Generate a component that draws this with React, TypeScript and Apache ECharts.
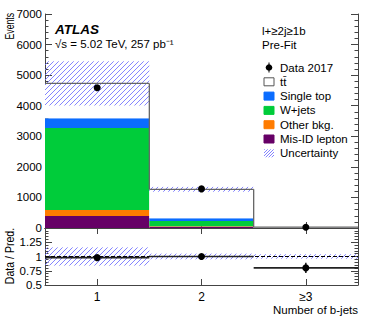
import React, { useEffect, useRef } from 'react';
import * as echarts from 'echarts';

const categories = ['1', '2', '≥3'];
const misIdLepton = [390, 40, 3];
const otherBkg = [200, 20, 2];
const wJets = [2680, 170, 6];
const singleTop = [320, 85, 4];
const ttbar = [1140, 950, 15];
const dataEvents = [4590, 1280, 24];
const dataErrors = [68, 36, 5];
const relUncertainty = [0.153, 0.063, 0.04];
const ratioValues = [0.98, 1.0, 0.8];
const ratioErrors = [0.015, 0.03, 0.09];
const ratioUncertainty = [0.16, 0.05, 0.04];
const topTicks = { min: 0, max: 7000, interval: 1000 };
const ratioTicks = { min: 0.5, max: 1.5, interval: 0.25 };

const legendItems = [
  { name: 'Data 2017', kind: 'data', color: '#000' },
  { name: 'tt\u0304', kind: 'box', color: '#ffffff' },
  { name: 'Single top', kind: 'box', color: '#0a6cff' },
  { name: 'W+jets', kind: 'box', color: '#00cc3a' },
  { name: 'Other bkg.', kind: 'box', color: '#ff7c00' },
  { name: 'Mis-ID lepton', kind: 'box', color: '#660066' },
  { name: 'Uncertainty', kind: 'hatch', color: '' },
];

const FONT = '"Liberation Sans", Arial, Helvetica, sans-serif';
const HATCH = 'rgba(110,110,255,0.85)';
const AXIS = '#444';

function hatchLines(x0: number, x1: number, yT: number, yB: number, step: number, stroke: string) {
  const els: any[] = [];
  const start = Math.ceil((x0 + yT) / step) * step;
  for (let c = start; c <= x1 + yB; c += step) {
    const xa = Math.max(x0, c - yB);
    const xb = Math.min(x1, c - yT);
    if (xb > xa) {
      els.push({
        type: 'line',
        shape: { x1: xa, y1: c - xa, x2: xb, y2: c - xb },
        style: { stroke, lineWidth: 1 },
      });
    }
  }
  return els;
}

export default function App() {
  const ref = useRef<HTMLDivElement>(null);
  useEffect(() => {
    if (!ref.current) return;
    const chart = echarts.init(ref.current, null, { renderer: 'svg' });
    const totals = categories.map(
      (_, i) => misIdLepton[i] + otherBkg[i] + wJets[i] + singleTop[i] + ttbar[i]
    );

    const hatchRender = (params: any, api: any) => {
      const i = api.value(0);
      const lo = api.coord([i, api.value(1)]);
      const hi = api.coord([i, api.value(2)]);
      const w = api.size([1, 0])[0];
      const x0 = lo[0] - w / 2;
      const x1 = lo[0] + w / 2;
      return {
        type: 'group',
        children: hatchLines(x0, x1, hi[1], lo[1], 5, HATCH),
      };
    };

    const stackColors = ['#660066', '#ff7c00', '#00cc3a', '#0a6cff', '#ffffff'];
    const stackData = [misIdLepton, otherBkg, wJets, singleTop, ttbar];
    const stackNames = ['Mis-ID lepton', 'Other bkg.', 'W+jets', 'Single top', 'ttbar'];

    const axisLineStyle = { lineStyle: { color: AXIS, width: 1 } };
    const catAxis = (gridIndex: number, position: string, showLabel: boolean) => ({
      type: 'category',
      gridIndex,
      position,
      data: categories,
      boundaryGap: true,
      axisLine: { show: true, ...axisLineStyle },
      axisTick: { show: true, inside: true, alignWithLabel: true, length: 6, lineStyle: { color: AXIS } },
      axisLabel: {
        show: showLabel,
        color: '#000',
        fontFamily: FONT,
        fontSize: 12,
        margin: 6,
      },
      splitLine: { show: false },
    });
    const valAxis = (gridIndex: number, position: string, ticks: any, showLabel: boolean, formatter?: any) => ({
      type: 'value',
      gridIndex,
      position,
      min: ticks.min,
      max: ticks.max,
      interval: ticks.interval,
      axisLine: { show: true, ...axisLineStyle },
      axisTick: { show: true, inside: true, length: 7, lineStyle: { color: AXIS } },
      minorTick: { show: true, splitNumber: 5, length: 3.5, lineStyle: { color: AXIS } },
      axisLabel: {
        show: showLabel,
        color: '#000',
        fontFamily: FONT,
        fontSize: 11.5,
        margin: 3,
        formatter: formatter || ((v: number) => String(v)),
      },
      splitLine: { show: false },
      minorSplitLine: { show: false },
    });

    const outlineData = categories.map((_, i) => [i, totals[i], i + 1 < totals.length ? totals[i + 1] : totals[i]]);

    const graphics: any[] = [];
    // Legend
    const legX = 264;
    const legY0 = 67.5;
    const legDy = 14.3;
    legendItems.forEach((it, k) => {
      const cy = legY0 + k * legDy;
      if (it.kind === 'data') {
        graphics.push({ type: 'circle', shape: { cx: legX + 5, cy, r: 3.3 }, style: { fill: '#000' } });
        graphics.push({ type: 'line', shape: { x1: legX + 5, y1: cy - 5, x2: legX + 5, y2: cy + 5 }, style: { stroke: '#000', lineWidth: 1 } });
      } else if (it.kind === 'box') {
        graphics.push({
          type: 'rect',
          shape: { x: legX, y: cy - 4, width: 10, height: 8 },
          style: { fill: it.color, stroke: it.color === '#ffffff' ? '#555' : it.color, lineWidth: 1 },
        });
      } else {
        hatchLines(legX, legX + 10, cy - 4, cy + 4, 3, HATCH).forEach((e) => graphics.push(e));
      }
      graphics.push({
        type: 'text',
        x: legX + 16,
        y: cy,
        style: { text: it.name, fill: '#000', font: `11.5px ${FONT}`, verticalAlign: 'middle', textAlign: 'left' },
      });
    });
    graphics.push(
      { type: 'text', x: 262, y: 31, style: { text: 'l+≥2j≥1b', fill: '#000', font: `11.5px ${FONT}`, verticalAlign: 'middle' } },
      { type: 'text', x: 262, y: 45, style: { text: 'Pre-Fit', fill: '#000', font: `11.5px ${FONT}`, verticalAlign: 'middle' } },
      { type: 'text', x: 55, y: 29, style: { text: 'ATLAS', fill: '#000', font: `italic bold 13.5px ${FONT}`, verticalAlign: 'middle' } },
      { type: 'text', x: 55, y: 44, style: { text: '√s = 5.02 TeV, 257 pb⁻¹', fill: '#000', font: `11.5px ${FONT}`, verticalAlign: 'middle' } },
      { type: 'text', x: 358, y: 310, style: { text: 'Number of b-jets', fill: '#000', font: `11.5px ${FONT}`, verticalAlign: 'middle', textAlign: 'right' } },
      {
        type: 'text', x: 10, y: 13, rotation: Math.PI / 2, scaleX: 0.72,
        style: { text: 'Events', fill: '#000', font: `12px ${FONT}`, verticalAlign: 'middle', textAlign: 'right' },
      },
      {
        type: 'text', x: 10, y: 256, rotation: Math.PI / 2, scaleX: 0.88,
        style: { text: 'Data / Pred.', fill: '#000', font: `12px ${FONT}`, verticalAlign: 'middle', textAlign: 'center' },
      }
    );

    const option: any = {
      animation: false,
      backgroundColor: '#fff',
      grid: [
        { left: 45, right: 16, top: 14, height: 214 },
        { left: 45, right: 16, top: 228, height: 57 },
      ],
      xAxis: [
        catAxis(0, 'bottom', false),
        catAxis(0, 'top', false),
        catAxis(1, 'bottom', true),
        catAxis(1, 'top', false),
      ],
      yAxis: [
        valAxis(0, 'left', topTicks, true),
        valAxis(0, 'right', topTicks, false),
        valAxis(1, 'left', ratioTicks, true, (v: number) => (v === 1.5 ? '' : String(v))),
        valAxis(1, 'right', ratioTicks, false),
      ],
      series: [
        ...stackData.map((arr, k) => ({
          type: 'bar',
          name: stackNames[k],
          stack: 'total',
          xAxisIndex: 0,
          yAxisIndex: 0,
          barCategoryGap: '0%',
          data: arr,
          itemStyle: { color: stackColors[k], borderWidth: 0 },
          z: 2,
        })),
        {
          type: 'custom',
          name: 'uncertainty',
          xAxisIndex: 0,
          yAxisIndex: 0,
          clip: true,
          z: 3,
          data: categories.map((_, i) => [i, totals[i] * (1 - relUncertainty[i]), totals[i] * (1 + relUncertainty[i])]),
          renderItem: hatchRender,
        },
        {
          type: 'custom',
          name: 'outline',
          xAxisIndex: 0,
          yAxisIndex: 0,
          clip: true,
          z: 4,
          data: outlineData,
          renderItem: (params: any, api: any) => {
            const i = api.value(0);
            const p = api.coord([i, api.value(1)]);
            const q = api.coord([i, api.value(2)]);
            const w = api.size([1, 0])[0];
            const s = { stroke: '#666', lineWidth: 1.3 };
            return {
              type: 'group',
              children: [
                { type: 'line', shape: { x1: p[0] - w / 2, y1: p[1], x2: p[0] + w / 2, y2: p[1] }, style: s },
                { type: 'line', shape: { x1: p[0] + w / 2, y1: p[1], x2: p[0] + w / 2, y2: q[1] }, style: s },
              ],
            };
          },
        },
        {
          type: 'custom',
          name: 'Data 2017',
          xAxisIndex: 0,
          yAxisIndex: 0,
          z: 5,
          data: categories.map((_, i) => [i, dataEvents[i], dataErrors[i]]),
          renderItem: (params: any, api: any) => {
            const i = api.value(0);
            const v = api.value(1);
            const e = api.value(2);
            const p = api.coord([i, v]);
            const a = api.coord([i, v - e]);
            const b = api.coord([i, v + e]);
            return {
              type: 'group',
              children: [
                { type: 'line', shape: { x1: p[0], y1: a[1], x2: p[0], y2: b[1] }, style: { stroke: '#000', lineWidth: 1.5 } },
                { type: 'circle', shape: { cx: p[0], cy: p[1], r: 3.5 }, style: { fill: '#000' } },
              ],
            };
          },
        },
        {
          type: 'custom',
          name: 'ratio band',
          xAxisIndex: 2,
          yAxisIndex: 2,
          clip: true,
          z: 3,
          data: categories.map((_, i) => [i, 1 - ratioUncertainty[i], 1 + ratioUncertainty[i]]),
          renderItem: hatchRender,
          markLine: {
            silent: true,
            symbol: 'none',
            label: { show: false },
            lineStyle: { color: '#000', type: [4, 2], width: 1 },
            data: [{ yAxis: 1 }],
          },
        },
        {
          type: 'custom',
          name: 'ratio',
          xAxisIndex: 2,
          yAxisIndex: 2,
          z: 5,
          data: categories.map((_, i) => [i, ratioValues[i], ratioErrors[i]]),
          renderItem: (params: any, api: any) => {
            const i = api.value(0);
            const v = api.value(1);
            const e = api.value(2);
            const p = api.coord([i, v]);
            const a = api.coord([i, v - e]);
            const b = api.coord([i, v + e]);
            const w = api.size([1, 0])[0];
            return {
              type: 'group',
              children: [
                { type: 'line', shape: { x1: p[0] - w / 2, y1: p[1], x2: p[0] + w / 2, y2: p[1] }, style: { stroke: '#222', lineWidth: 1.6 } },
                { type: 'line', shape: { x1: p[0], y1: a[1], x2: p[0], y2: b[1] }, style: { stroke: '#222', lineWidth: 1.6 } },
                { type: 'circle', shape: { cx: p[0], cy: p[1], r: 3.5 }, style: { fill: '#000' } },
              ],
            };
          },
        },
      ],
      graphic: graphics,
    };
    chart.setOption(option);
    return () => chart.dispose();
  }, []);
  return (
    <div
      ref={ref}
      style={{ position: 'absolute', left: 0, top: 0, width: 374, height: 318, background: '#fff' }}
    />
  );
}
